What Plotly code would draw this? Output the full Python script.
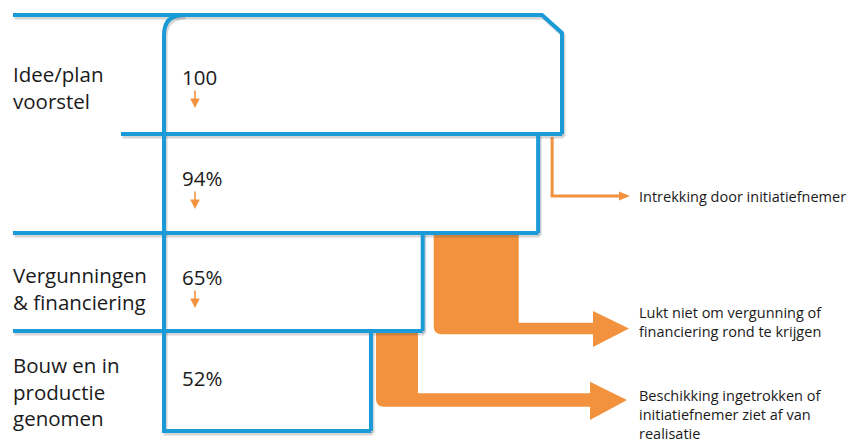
import plotly.graph_objects as go

# ---------------- data ----------------
stage_labels = ["Idee/plan<br>voorstel", "", "Vergunningen<br>&amp; financiering", "Bouw en in<br>productie<br>genomen"]
stage_values = [100, 94, 65, 52]
value_labels = ["100", "94%", "65%", "52%"]
drop_labels = [
    "Intrekking door initiatiefnemer",
    "Lukt niet om vergunning of<br>financiering rond te krijgen",
    "Beschikking ingetrokken of<br>initiatiefnemer ziet af van<br>realisatie",
]

# ---------------- layout constants ----------------
W, H = 850, 442
X0 = 164.0          # pixel position of value 0
S = 3.98            # pixels per percent
BLUE = "#1a9bd7"
ORANGE = "#f2923f"
SHADOW = "rgba(70,70,70,0.22)"
TXT = "#1a1a1a"
FONT = "Open Sans"


def ux(px):
    return (px - X0) / S


def du(px):
    return px / S


row_edges = [15, 134, 233, 331, 431]
label_y = [87, None, 288, 391]
value_y = [77, 178, 277, 378]
drop_y = [196, 322, 414]

v = stage_values
shapes = []


def poly(points, dx=0.0, dy=0.0):
    s = ""
    for i, (x, y) in enumerate(points):
        s += ("M" if i == 0 else "L") + f"{x + dx:.4f},{y + dy:.3f} "
    return s


# ---------------- orange drop-off bands ----------------
# band 1: thin line
b1x = v[1] + du(14)
shapes.append(dict(type="path", xref="x", yref="y",
                   path=poly([(b1x, row_edges[1] + 3), (b1x, drop_y[0]), (ux(621), drop_y[0])]),
                   line=dict(color=ORANGE, width=3)))
shapes.append(dict(type="path", xref="x", yref="y",
                   path=poly([(ux(619), drop_y[0] - 4.5), (ux(630), drop_y[0]), (ux(619), drop_y[0] + 4.5)]) + "Z",
                   fillcolor=ORANGE, line=dict(width=0)))


def band(xl, xr, ytop, sh_top, sh_bot, head_x, tip_x, head_top, head_bot, r=8):
    tip_y = (sh_top + sh_bot) / 2
    p = poly([(xl, ytop), (xr, ytop), (xr, sh_top), (head_x, sh_top), (head_x, head_top),
              (tip_x, tip_y), (head_x, head_bot), (head_x, sh_bot), (xl + du(r), sh_bot)])
    p += f"Q{xl:.4f},{sh_bot:.3f} {xl:.4f},{sh_bot - r:.3f} Z"
    return dict(type="path", xref="x", yref="y", path=p, fillcolor=ORANGE, line=dict(width=0))


# band 2
b2l = v[2] + du(11)
shapes.append(band(b2l, b2l + du(85), row_edges[2], 322.7, 334.3, ux(593), ux(629), 311, 347))
# band 3
b3l = v[3] + du(5)
shapes.append(band(b3l, b3l + du(42), row_edges[3], 393.3, 406.7, ux(590), ux(627), 381.7, 420))

# ---------------- blue funnel lines ----------------
ch = du(20)
blue_paths = [
    [(ux(13), row_edges[0]), (v[0] - ch, row_edges[0]), (v[0], row_edges[0] + 18), (v[0], row_edges[1])],
    [(ux(121), row_edges[1]), (v[0], row_edges[1])],
    [(v[1], row_edges[1]), (v[1], row_edges[2])],
    [(ux(13), row_edges[2]), (v[1], row_edges[2])],
    [(v[2], row_edges[2]), (v[2], row_edges[3])],
    [(ux(13), row_edges[3]), (v[2], row_edges[3])],
    [(v[3], row_edges[3]), (v[3], row_edges[4])],
]


def left_path(dx=0.0, dy=0.0):
    r = 20
    return (f"M{du(r) + dx:.4f},{row_edges[0] + dy:.3f} "
            f"Q{dx:.4f},{row_edges[0] + dy:.3f} {dx:.4f},{row_edges[0] + r + dy:.3f} "
            f"L{dx:.4f},{row_edges[4] + dy:.3f} L{v[3] + dx:.4f},{row_edges[4] + dy:.3f}")


sdx, sdy = du(1.5), 2.5
for pts in blue_paths:
    shapes.append(dict(type="path", xref="x", yref="y", path=poly(pts, sdx, sdy),
                       line=dict(color=SHADOW, width=4)))
shapes.append(dict(type="path", xref="x", yref="y", path=left_path(sdx, sdy),
                   line=dict(color=SHADOW, width=4)))
for pts in blue_paths:
    shapes.append(dict(type="path", xref="x", yref="y", path=poly(pts),
                       line=dict(color=BLUE, width=4)))
shapes.append(dict(type="path", xref="x", yref="y", path=left_path(),
                   line=dict(color=BLUE, width=4)))

# ---------------- text ----------------
annotations = []
for lab, yy in zip(stage_labels, label_y):
    if lab and yy is not None:
        annotations.append(dict(x=ux(11), y=yy, xref="x", yref="y", text=lab, showarrow=False,
                                xanchor="left", yanchor="middle", align="left",
                                font=dict(family=FONT, size=20.5, color=TXT)))
for lab, yy in zip(value_labels, value_y):
    annotations.append(dict(x=ux(180), y=yy, xref="x", yref="y", text=lab, showarrow=False,
                            xanchor="left", yanchor="middle", align="left",
                            font=dict(family=FONT, size=20.5, color=TXT)))
# small arrows under the values (all but the last stage)
for yy in value_y[:-1]:
    annotations.append(dict(x=ux(195), y=yy + 31, xref="x", yref="y", text="", showarrow=True,
                            ax=0, ay=-19, arrowhead=2, arrowsize=1.2, arrowwidth=1.6,
                            arrowcolor=ORANGE))
for lab, yy in zip(drop_labels, drop_y):
    annotations.append(dict(x=ux(637), y=yy, xref="x", yref="y", text=lab, showarrow=False,
                            xanchor="left", yanchor="middle", align="left",
                            font=dict(family=FONT, size=14.5, color=TXT)))

fig = go.Figure()
fig.add_trace(go.Scatter(x=[ux(0), ux(W)], y=[0, H], mode="markers",
                         marker=dict(opacity=0), hoverinfo="skip", showlegend=False))
fig.update_layout(
    width=W, height=H,
    margin=dict(l=0, r=0, t=0, b=0),
    paper_bgcolor="white", plot_bgcolor="white",
    xaxis=dict(range=[ux(0), ux(W)], visible=False, fixedrange=True),
    yaxis=dict(range=[H, 0], visible=False, fixedrange=True),
    shapes=shapes,
    annotations=annotations,
    showlegend=False,
)
fig.write_html("out.html", config={"displayModeBar": False},
               post_script="document.body.style.margin='0px';document.body.style.overflow='hidden';")
